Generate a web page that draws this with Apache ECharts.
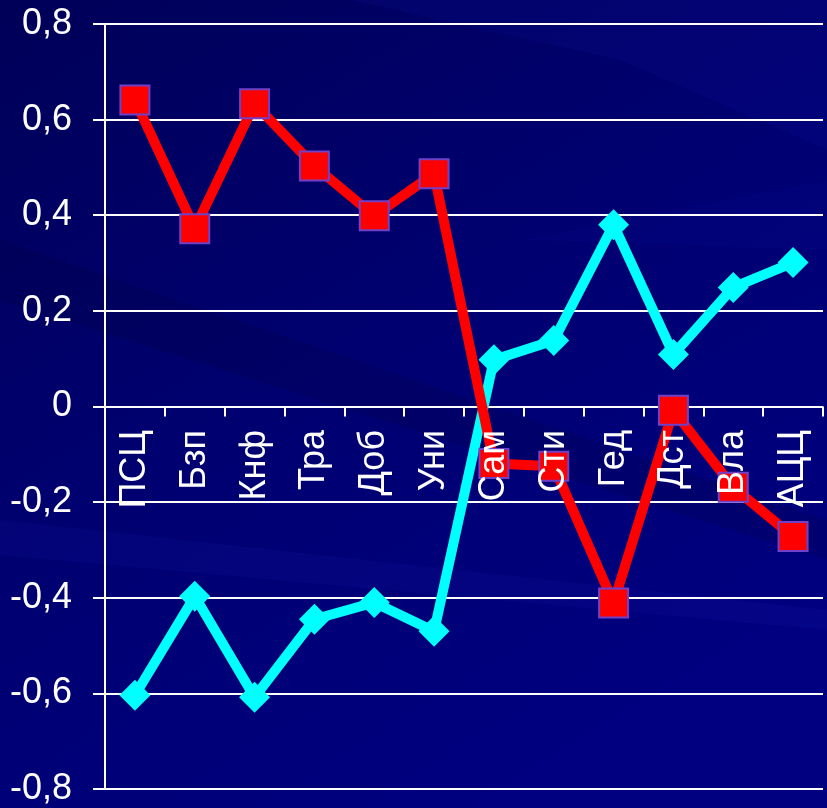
<!DOCTYPE html>
<html>
<head>
<meta charset="utf-8">
<script src="https://cdn.jsdelivr.net/npm/echarts@6/dist/echarts.min.js"></script>
<style>
html,body{margin:0;padding:0;background:#000066;}
#chart{width:827px;height:808px;}
</style>
</head>
<body>
<div id="chart"></div>
<script>
const categories = ['ПСЦ','Бзп','Кнф','Тра','Доб','Уни','Сам','Сти','Гед','Дст','Вла','АЦЦ'];
const redValues = [0.641, 0.372, 0.633, 0.503, 0.399, 0.487, -0.119, -0.125, -0.411, -0.008, -0.169, -0.272];
const cyanValues = [-0.604, -0.397, -0.608, -0.445, -0.410, -0.470, 0.098, 0.138, 0.380, 0.109, 0.249, 0.301];
const yMin = -0.8, yMax = 0.8, yStep = 0.2;

const chart = echarts.init(document.getElementById('chart'), null, {renderer:'canvas'});

function band(points, color){
  return {type:'polygon', silent:true, z:-10, shape:{points:points}, style:{fill:color}};
}

chart.setOption({
  backgroundColor: {
    type:'linear', x:0, y:0, x2:0.6, y2:1,
    colorStops:[{offset:0,color:'#000058'},{offset:0.5,color:'#000070'},{offset:1,color:'#000080'}]
  },
  graphic: [
    band([[350,0],[827,0],[827,150],[620,60]], 'rgba(20,20,160,0.15)'),
    band([[0,240],[827,520],[827,560],[0,300]], 'rgba(0,0,40,0.15)'),
    band([[0,520],[827,610],[827,630],[0,555]], 'rgba(30,30,170,0.15)'),
    band([[520,240],[827,180],[827,250]], 'rgba(20,20,160,0.12)')
  ],
  animation:false,
  grid:{left:105, right:4, top:24, bottom:19, containLabel:false, outerBoundsMode:'none'},
  xAxis:[{
    type:'category', data:categories, boundaryGap:true, z:5,
    axisLine:{show:true, onZero:true, lineStyle:{color:'rgba(255,255,255,0)', width:2}},
    axisTick:{show:true, length:10, lineStyle:{color:'#ffffff', width:2}, inside:false},
    axisLabel:{show:false},
    splitLine:{show:false}
  },{
    type:'category', data:categories, boundaryGap:true, z:5, position:'bottom',
    axisLine:{show:false, onZero:false},
    axisTick:{show:false},
    axisLabel:{rotate:90, margin:-359, color:'#ffffff', fontSize:36, fontFamily:'Liberation Sans, Arial, sans-serif'},
    splitLine:{show:false}
  }],
  yAxis:{
    type:'value', min:yMin, max:yMax, interval:yStep,
    axisLine:{show:true, lineStyle:{color:'#ffffff', width:2}},
    axisTick:{show:true, length:12, lineStyle:{color:'#ffffff', width:2}},
    axisLabel:{margin:33, color:'#ffffff', fontSize:36, fontFamily:'Liberation Sans, Arial, sans-serif',
      formatter:function(v){ if (Math.abs(v) < 1e-9) return '0'; return v.toFixed(1).replace('.', ','); }},
    splitLine:{show:true, lineStyle:{color:'#ffffff', width:2}}
  },
  series:[
    {
      type:'line', data:cyanValues, symbol:'diamond', symbolSize:31, z:2,
      lineStyle:{color:'#00ffff', width:10},
      itemStyle:{color:'#00ffff'}
    },
    {
      type:'line', data:redValues, symbol:'rect', symbolSize:29, z:3,
      lineStyle:{color:'#ff0000', width:10},
      itemStyle:{color:'#ff0000', borderColor:'#7040c8', borderWidth:2}
    }
  ]
});
</script>
</body>
</html>
